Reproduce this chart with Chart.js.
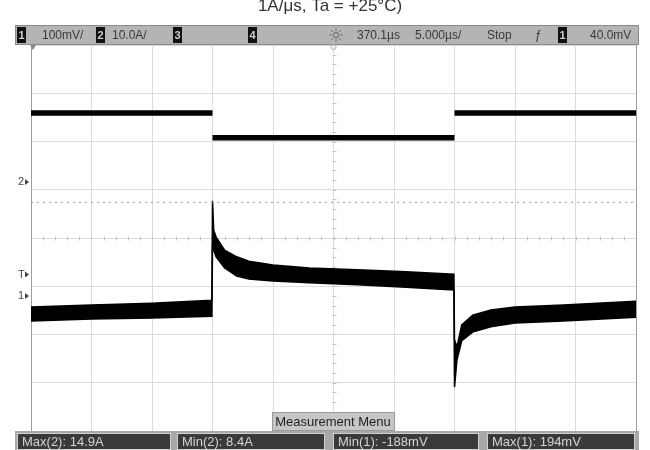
<!DOCTYPE html>
<html>
<head>
<meta charset="utf-8">
<script src="https://cdn.jsdelivr.net/npm/chart.js@4.4.0/dist/chart.umd.min.js"></script>
<style>
  body { margin: 0; background: #fff; }
  #wrap { width: 650px; height: 450px; }
</style>
</head>
<body>
<div id="wrap"><canvas id="scope"></canvas></div>
<script>
// time in µs from the left edge of the screen (5 µs/div, 10 div)
// channel 2 : current in A, 10 A/div, edges not drawn by the scope
const ch2Time = [0, 15, 15, 15, 35, 35, 35, 50];
const ch2Amps = [14.3, 14.3, null, 9.2, 9.2, null, 14.3, 14.3];

// channel 1 : voltage in mV, 100 mV/div, noisy so kept as a min/max band
const ch1Time = [0, 5, 10, 14.95, 15, 15.1, 15.3, 16, 17, 18, 20, 23, 27, 31, 34.95, 35, 35.2, 35.6, 36.5, 38, 40, 44, 50];
const ch1Top  = [-23, -19, -15, -9, 197, 136, 122, 95, 81, 72, 64, 58, 54, 50, 45, -91, -106, -60, -40, -29, -23, -19, -11];
const ch1Bot  = [-52, -48, -46, -42, 101, 95, 81, 58, 41, 35, 31, 27, 23, 18, 12, -189, -133, -93, -75, -64, -56, -52, -44];

// Max(1) marker and trigger level (mV)
const maxMarker = 194;
const trigLevel = 40;

// text on the screen
const titleText = '1A/\u03bcs, Ta = +25\u00b0C)';
const headerItems = [
  {box: '1', x: 17}, {text: '100mV/', x: 42},
  {box: '2', x: 96}, {text: '10.0A/', x: 112},
  {box: '3', x: 173},
  {box: '4', x: 248},
  {text: '370.1\u00b5s', x: 357}, {text: '5.000\u00b5s/', x: 415},
  {text: 'Stop', x: 487}, {text: '\u0192', x: 535},
  {box: '1', x: 558}, {text: '40.0mV', x: 590}
];
const measLabels = ['Max(2): 14.9A', 'Min(2): 8.4A', 'Min(1): -188mV', 'Max(1): 194mV'];
const measX = [17, 177, 333, 487];
const measW = [154, 148, 146, 148];

const pts = (xs, ys) => xs.map((t, i) => ({x: t, y: ys[i]}));

const sans = '"Liberation Sans", Arial, sans-serif';

// screen furniture (title, status bar, markers, measurement bar)
const scopeScreen = {
  id: 'scopeScreen',
  beforeDatasetsDraw(chart) {
    const {ctx, chartArea: {left, right, top, bottom}, scales: {x, div}} = chart;
    const cx = Math.round(x.getPixelForValue(25)) + 0.5;
    const cy = Math.round(div.getPixelForValue(0)) + 0.5;
    const sx = (x.getPixelForValue(5) - x.getPixelForValue(0)) / 5;
    const sy = (div.getPixelForValue(0) - div.getPixelForValue(1)) / 5;
    ctx.save();
    ctx.strokeStyle = '#c4c4c4';
    ctx.lineWidth = 1;
    ctx.beginPath();
    for (let px = left + sx; px < right - 1; px += sx) {
      ctx.moveTo(Math.round(px) + 0.5, cy - 2);
      ctx.lineTo(Math.round(px) + 0.5, cy + 2);
    }
    for (let py = top + sy; py < bottom - 1; py += sy) {
      ctx.moveTo(cx - 2, Math.round(py) + 0.5);
      ctx.lineTo(cx + 2, Math.round(py) + 0.5);
    }
    ctx.stroke();
    ctx.restore();
  },
  afterDraw(chart) {
    const {ctx, scales: {x, v, a}} = chart;
    ctx.save();

    // title, cut at the top of the picture
    ctx.fillStyle = '#333';
    ctx.font = '17px ' + sans;
    ctx.textAlign = 'center';
    ctx.textBaseline = 'alphabetic';
    ctx.fillText(titleText, 330, 11);

    // status bar
    ctx.fillStyle = '#b4b4b4';
    ctx.fillRect(15, 25, 624, 19);
    ctx.strokeStyle = '#8a8a8a';
    ctx.lineWidth = 1;
    ctx.strokeRect(15.5, 25.5, 623, 19);
    ctx.textAlign = 'left';
    ctx.textBaseline = 'middle';
    headerItems.forEach(it => {
      if (it.box) {
        ctx.fillStyle = '#111';
        ctx.fillRect(it.x, 27, 9, 16);
        ctx.fillStyle = '#cfcfcf';
        ctx.font = 'bold 11px ' + sans;
        ctx.fillText(it.box, it.x + 1.5, 35.5);
      } else {
        ctx.fillStyle = '#3a3a3a';
        ctx.font = '12px ' + sans;
        ctx.fillText(it.text, it.x, 35.5);
      }
    });
    // time reference (sun) icon
    const sunX = 336, sunY = 35;
    ctx.strokeStyle = '#666';
    ctx.beginPath();
    ctx.arc(sunX, sunY, 2.5, 0, Math.PI * 2);
    for (let k = 0; k < 8; k++) {
      const ang = k * Math.PI / 4;
      ctx.moveTo(sunX + Math.cos(ang) * 4, sunY + Math.sin(ang) * 4);
      ctx.lineTo(sunX + Math.cos(ang) * 6.5, sunY + Math.sin(ang) * 6.5);
    }
    ctx.stroke();

    // small markers under the status bar
    ctx.fillStyle = '#888';
    ctx.beginPath();
    ctx.moveTo(30, 45); ctx.lineTo(36, 45); ctx.lineTo(33, 50); ctx.closePath();
    ctx.fill();
    ctx.strokeStyle = '#aaa';
    ctx.beginPath();
    ctx.arc(x.getPixelForValue(25), 47, 2.5, 0, Math.PI * 2);
    ctx.stroke();

    // ground / trigger markers on the left
    const marker = (label, py) => {
      ctx.fillStyle = '#444';
      ctx.font = '11px ' + sans;
      ctx.textAlign = 'left';
      ctx.textBaseline = 'middle';
      ctx.fillText(label, 18, py);
      ctx.beginPath();
      ctx.moveTo(25, py - 3); ctx.lineTo(29, py); ctx.lineTo(25, py + 3); ctx.closePath();
      ctx.fill();
    };
    marker('2', a.getPixelForValue(0));
    marker('1', v.getPixelForValue(0));
    marker('T', v.getPixelForValue(trigLevel) - 2);

    // measurement menu label
    ctx.fillStyle = '#c6c6c6';
    ctx.fillRect(272, 412, 123, 19);
    ctx.strokeStyle = '#9a9a9a';
    ctx.strokeRect(272.5, 412.5, 122, 18);
    ctx.fillStyle = '#222';
    ctx.font = '13px ' + sans;
    ctx.textAlign = 'center';
    ctx.fillText('Measurement Menu', 333, 422);

    // measurement bar
    ctx.fillStyle = '#a8a8a8';
    ctx.fillRect(15, 431, 624, 19);
    ctx.textAlign = 'left';
    measLabels.forEach((lab, i) => {
      ctx.fillStyle = '#3a3a3a';
      ctx.fillRect(measX[i], 433, measW[i], 17);
      ctx.strokeStyle = '#cfcfcf';
      ctx.strokeRect(measX[i] + 0.5, 433.5, measW[i] - 1, 16);
      ctx.fillStyle = '#d4d4d4';
      ctx.font = '13px ' + sans;
      ctx.fillText(lab, measX[i] + 5, 442);
    });

    ctx.restore();
  }
};

const config = {
  type: 'line',
  data: {
    datasets: [
      {
        label: 'Max(1)',
        data: pts([0, 50], [maxMarker, maxMarker]),
        yAxisID: 'v',
        borderColor: '#9a9a9a',
        borderWidth: 1,
        borderDash: [2, 4],
        pointRadius: 0
      },
      {
        label: 'Ch1 top',
        data: pts(ch1Time, ch1Top),
        yAxisID: 'v',
        borderColor: '#000',
        backgroundColor: '#000',
        borderWidth: 1.5,
        pointRadius: 0,
        tension: 0,
        fill: '+1'
      },
      {
        label: 'Ch1 bottom',
        data: pts(ch1Time, ch1Bot),
        yAxisID: 'v',
        borderColor: '#000',
        borderWidth: 1.5,
        pointRadius: 0,
        tension: 0,
        fill: false
      },
      {
        label: 'Ch2',
        data: pts(ch2Time, ch2Amps),
        yAxisID: 'a',
        borderColor: '#000',
        borderWidth: 5.5,
        borderCapStyle: 'butt',
        pointRadius: 0,
        spanGaps: false,
        fill: false
      }
    ]
  },
  options: {
    responsive: true,
    maintainAspectRatio: false,
    animation: false,
    events: [],
    layout: { padding: { left: 31, right: 14, top: 45, bottom: 19 } },
    plugins: {
      legend: { display: false },
      tooltip: { enabled: false }
    },
    scales: {
      x: {
        type: 'linear',
        min: 0,
        max: 50,
        ticks: { display: false, stepSize: 5 },
        grid: {
          drawTicks: false,
          color: (c) => (c.index === 10 ? '#9c9c9c' : '#dcdcdc')
        },
        border: { display: false }
      },
      div: {
        position: 'left',
        min: -4,
        max: 4,
        ticks: { display: false, stepSize: 1 },
        grid: { drawTicks: false, color: '#dcdcdc' },
        border: { display: true, color: '#9c9c9c' }
      },
      v: { display: false, min: -280, max: 520 },
      a: { display: false, min: -51.6, max: 28.4 }
    }
  },
  plugins: [scopeScreen]
};

const scopeChart = new Chart(document.getElementById('scope'), config);
</script>
</body>
</html>
